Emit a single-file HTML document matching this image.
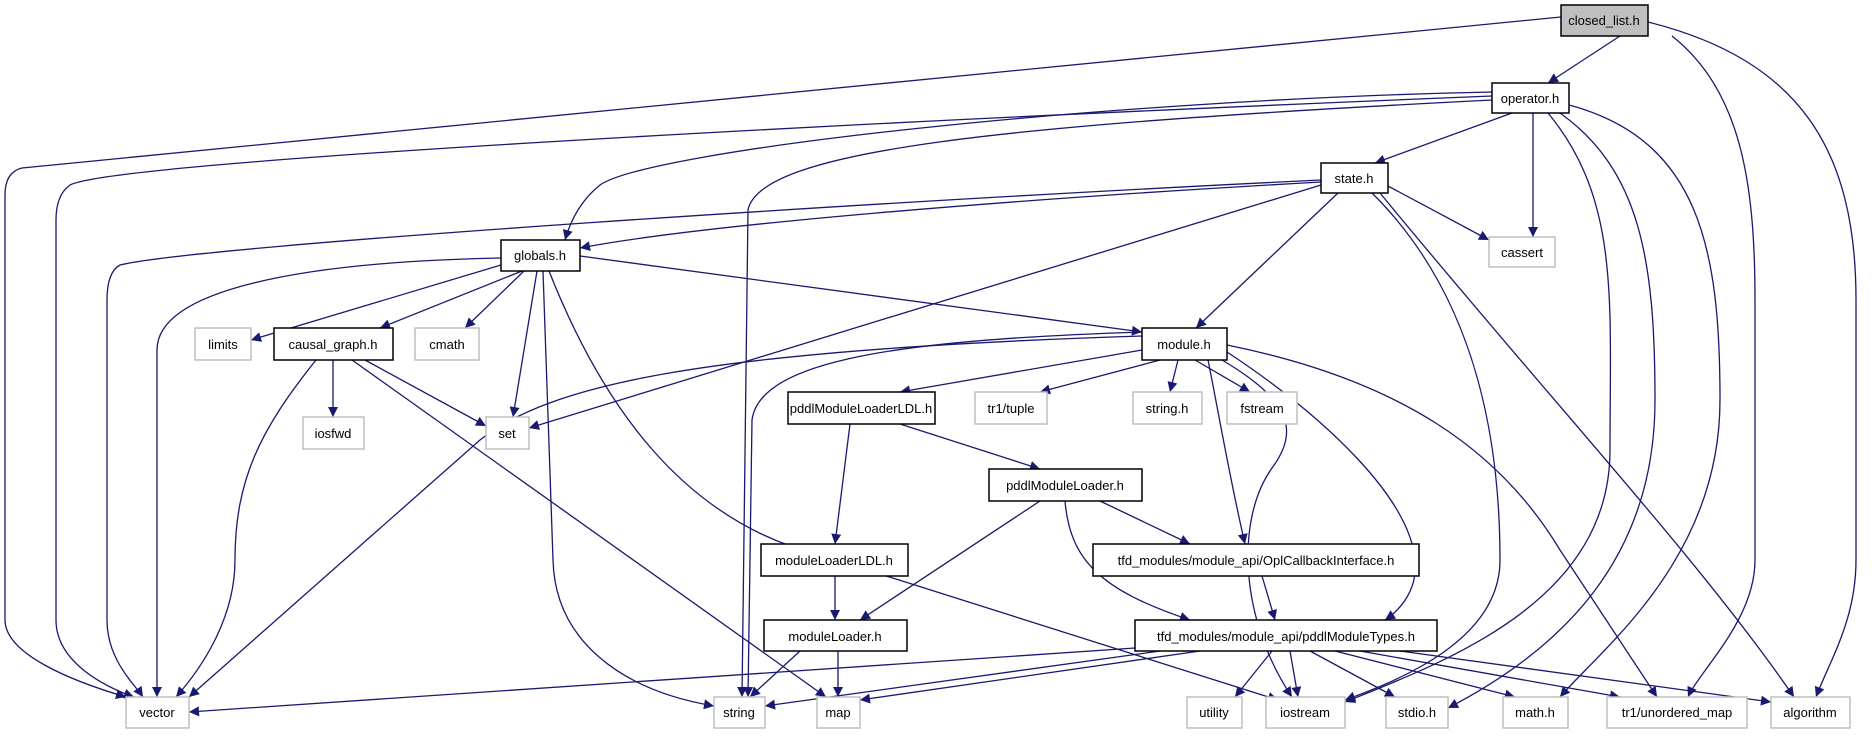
<!DOCTYPE html>
<html><head><meta charset="utf-8"><style>
html,body{margin:0;padding:0;background:#fff;}
svg{display:block;}
text{font-family:"Liberation Sans",sans-serif;font-size:13px;fill:#000;}
.n{fill:#fff;stroke:#000;stroke-width:1.5;}
.g{fill:#fff;stroke:#bfbfbf;stroke-width:1.5;}
.e{fill:none;stroke:#191970;stroke-width:1.3;}
</style></head><body>
<svg width="1876" height="736" viewBox="0 0 1876 736" xmlns="http://www.w3.org/2000/svg">
<defs><marker id="a" viewBox="0 0 10 10" refX="10" refY="5" markerWidth="14" markerHeight="10" markerUnits="userSpaceOnUse" orient="auto"><path d="M0,0 L10,5 L0,10 z" fill="#191970"/></marker></defs>
<g class="e" marker-end="url(#a)">
<path d="M1561,17 L22,168 Q5,172 5,195 L5,620 C5,655 75,682 126,697"/>
<path d="M1620,36 L1548,83"/>
<path d="M1672,36 C1740,90 1755,180 1755,300 L1755,560 C1755,620 1700,670 1688,697"/>
<path d="M1648,22 C1800,60 1856,150 1856,300 L1856,560 C1856,620 1830,660 1816,697"/>
<path d="M1492,92 C1100,100 650,150 600,185 Q575,205 565,240"/>
<path d="M1492,96 C900,120 120,160 70,185 Q56,195 56,220 L56,620 C56,660 100,685 134,697"/>
<path d="M1321,180 C900,200 200,245 120,265 Q107,272 107,300 L107,620 C107,660 135,685 143,697"/>
<path d="M501,258 C300,262 157,290 157,350 L157,697"/>
<path d="M316,360 C260,430 235,480 235,560 C235,620 200,670 176,697"/>
<path d="M1142,336 C700,350 550,385 480,440 L189,697"/>
<path d="M1135,648 L189,712"/>
<path d="M1492,100 C1000,125 760,150 748,210 L742,697"/>
<path d="M1512,113 L1375,163"/>
<path d="M1533,113 L1533,237"/>
<path d="M1548,113 C1620,200 1610,300 1610,450 C1610,600 1450,660 1345,702"/>
<path d="M1560,113 C1640,170 1655,260 1655,400 C1655,560 1560,650 1448,708"/>
<path d="M1569,105 C1700,140 1720,250 1720,400 C1720,560 1600,650 1560,697"/>
<path d="M1321,182 C1000,200 700,225 580,248"/>
<path d="M1321,185 L529,428"/>
<path d="M1338,193 L1196,328"/>
<path d="M1388,186 L1489,240"/>
<path d="M1372,193 C1480,300 1500,450 1500,560 C1500,640 1400,680 1345,700"/>
<path d="M1380,193 C1550,400 1700,560 1794,697"/>
<path d="M501,265 L251,340"/>
<path d="M522,271 L380,328"/>
<path d="M524,271 L465,328"/>
<path d="M537,271 L513,417"/>
<path d="M543,271 L553,560 C555,640 620,690 714,706"/>
<path d="M549,271 C600,400 680,520 820,555 L1278,700"/>
<path d="M580,256 L1142,332"/>
<path d="M333,360 L333,417"/>
<path d="M365,360 L486,426"/>
<path d="M352,360 L826,697"/>
<path d="M1142,332 C900,340 760,360 752,420 L748,697"/>
<path d="M1142,350 L900,392"/>
<path d="M1160,360 L1040,392"/>
<path d="M1178,360 L1170,392"/>
<path d="M1195,360 L1250,392"/>
<path d="M1222,360 C1290,400 1300,430 1272,468 C1235,520 1240,620 1292,697"/>
<path d="M1208,360 C1220,420 1230,480 1245,544"/>
<path d="M1227,352 C1330,420 1410,500 1415,560 C1418,590 1400,610 1385,620"/>
<path d="M1227,345 C1400,380 1500,450 1560,550 L1657,697"/>
<path d="M850,424 L835,544"/>
<path d="M900,424 L1040,469"/>
<path d="M1040,501 L860,620"/>
<path d="M1100,501 L1190,544"/>
<path d="M1065,501 C1070,560 1100,590 1190,620"/>
<path d="M835,576 L835,620"/>
<path d="M1262,576 L1275,620"/>
<path d="M800,651 L750,697"/>
<path d="M838,651 L838,697"/>
<path d="M1160,651 L765,706"/>
<path d="M1200,651 L860,700"/>
<path d="M1272,651 L1235,697"/>
<path d="M1290,651 L1298,697"/>
<path d="M1310,651 L1395,697"/>
<path d="M1335,651 L1515,697"/>
<path d="M1360,651 L1620,697"/>
<path d="M1400,651 L1771,702"/>
</g>
<rect x="1561" y="5" width="87" height="31" fill="#bfbfbf" stroke="#000" stroke-width="1.5"/>
<text x="1604" y="25" text-anchor="middle">closed_list.h</text>
<g text-anchor="middle">
<rect class="n" x="1492" y="83" width="77" height="30"/><text x="1530" y="103">operator.h</text>
<rect class="n" x="1321" y="163" width="67" height="30"/><text x="1354" y="183">state.h</text>
<rect class="n" x="501" y="240" width="79" height="31"/><text x="540" y="260">globals.h</text>
<rect class="g" x="1489" y="237" width="66" height="30"/><text x="1522" y="257">cassert</text>
<rect class="g" x="195" y="328" width="56" height="32"/><text x="223" y="349">limits</text>
<rect class="n" x="274" y="328" width="119" height="32"/><text x="333" y="349">causal_graph.h</text>
<rect class="g" x="415" y="328" width="64" height="32"/><text x="447" y="349">cmath</text>
<rect class="n" x="1142" y="328" width="85" height="32"/><text x="1184" y="349">module.h</text>
<rect class="g" x="303" y="417" width="61" height="32"/><text x="333" y="438">iosfwd</text>
<rect class="g" x="486" y="417" width="43" height="32"/><text x="507" y="438">set</text>
<rect class="n" x="788" y="392" width="147" height="32"/><text x="861" y="413">pddlModuleLoaderLDL.h</text>
<rect class="g" x="975" y="392" width="72" height="32"/><text x="1011" y="413">tr1/tuple</text>
<rect class="g" x="1133" y="392" width="69" height="32"/><text x="1167" y="413">string.h</text>
<rect class="g" x="1227" y="392" width="70" height="32"/><text x="1262" y="413">fstream</text>
<rect class="n" x="989" y="469" width="153" height="32"/><text x="1065" y="490">pddlModuleLoader.h</text>
<rect class="n" x="761" y="544" width="147" height="32"/><text x="834" y="565">moduleLoaderLDL.h</text>
<rect class="n" x="1093" y="544" width="326" height="32"/><text x="1256" y="565">tfd_modules/module_api/OplCallbackInterface.h</text>
<rect class="n" x="764" y="620" width="143" height="31"/><text x="835" y="641">moduleLoader.h</text>
<rect class="n" x="1135" y="620" width="302" height="31"/><text x="1286" y="641">tfd_modules/module_api/pddlModuleTypes.h</text>
<rect class="g" x="126" y="697" width="63" height="31"/><text x="157" y="717">vector</text>
<rect class="g" x="714" y="697" width="51" height="31"/><text x="739" y="717">string</text>
<rect class="g" x="817" y="697" width="43" height="31"/><text x="838" y="717">map</text>
<rect class="g" x="1187" y="697" width="55" height="31"/><text x="1214" y="717">utility</text>
<rect class="g" x="1266" y="697" width="79" height="31"/><text x="1305" y="717">iostream</text>
<rect class="g" x="1386" y="697" width="62" height="31"/><text x="1417" y="717">stdio.h</text>
<rect class="g" x="1503" y="697" width="65" height="31"/><text x="1535" y="717">math.h</text>
<rect class="g" x="1607" y="697" width="140" height="31"/><text x="1677" y="717">tr1/unordered_map</text>
<rect class="g" x="1771" y="697" width="79" height="31"/><text x="1810" y="717">algorithm</text>
</g>
</svg>
</body></html>
